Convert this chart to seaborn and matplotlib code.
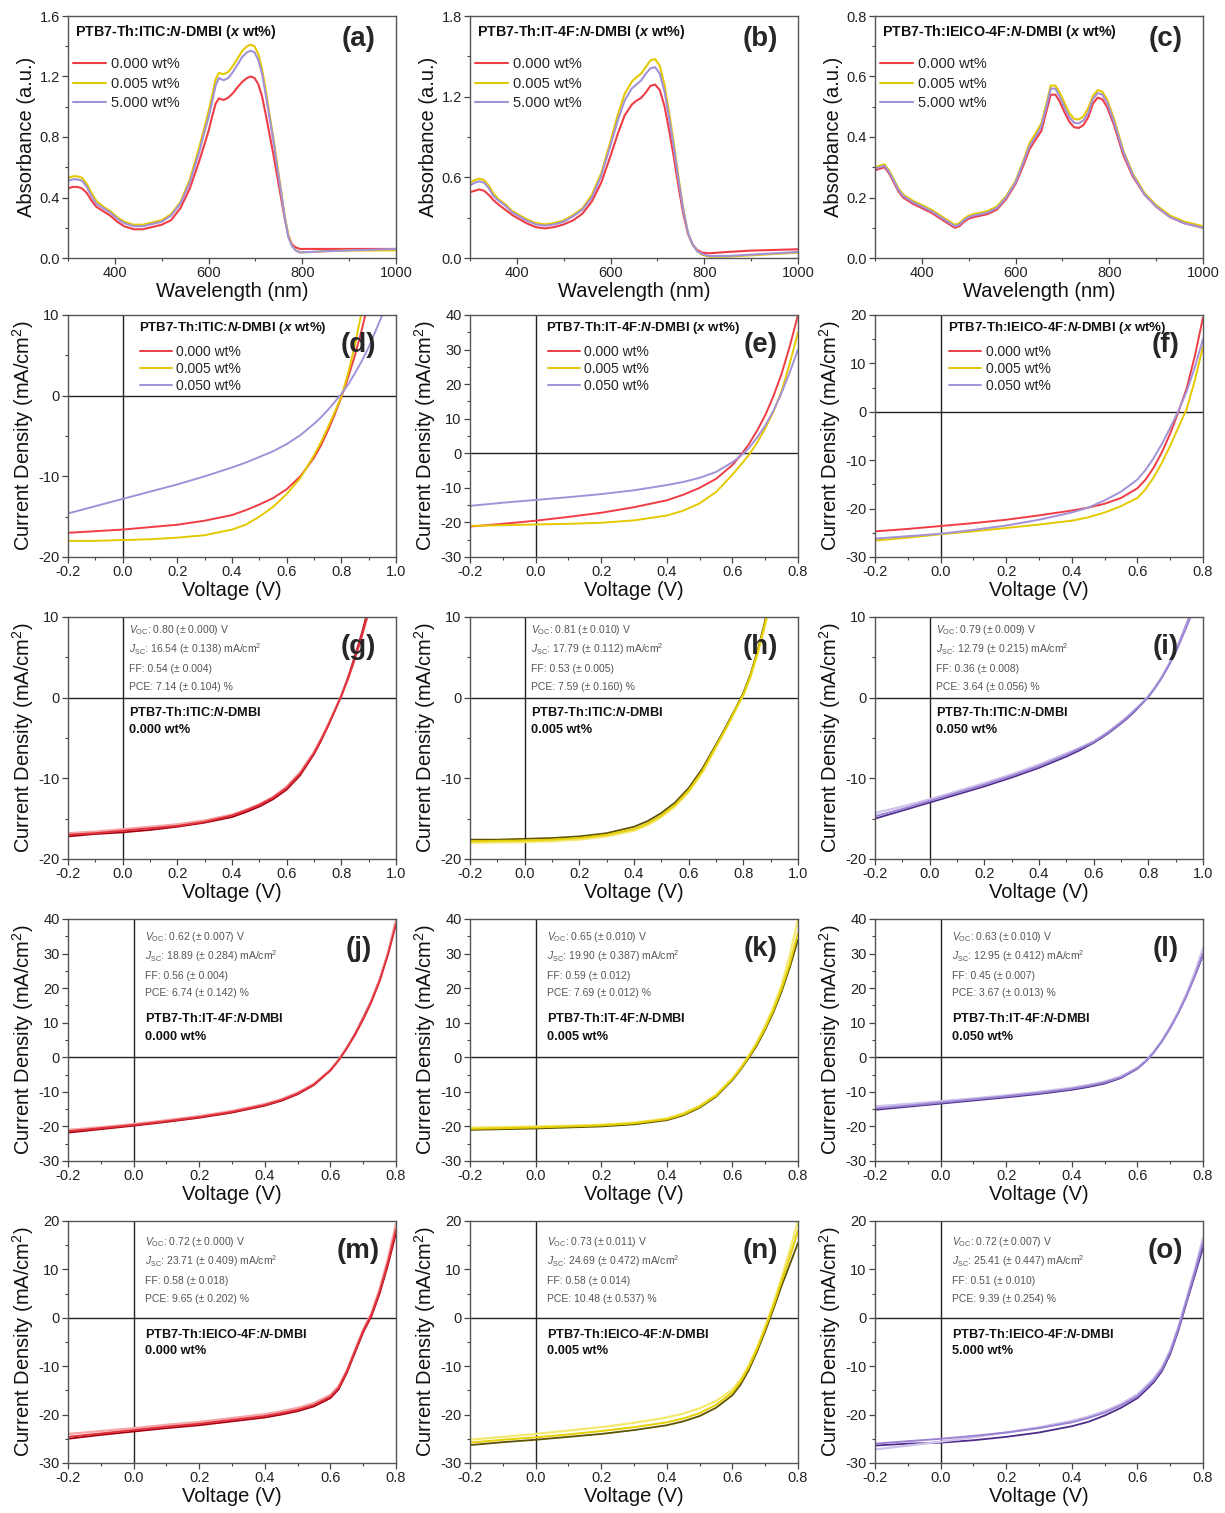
import numpy as np
import pandas as pd
import matplotlib
matplotlib.use("Agg")
import matplotlib.pyplot as plt
import seaborn as sns
from matplotlib.ticker import MultipleLocator, FuncFormatter

sns.set_theme(style="ticks")
plt.rcParams["font.family"] = ["Liberation Sans", "DejaVu Sans"]
plt.rcParams["axes.unicode_minus"] = False
plt.rcParams["mathtext.fontset"] = "custom"
plt.rcParams["mathtext.rm"] = "Liberation Sans"
plt.rcParams["mathtext.it"] = "Liberation Sans:italic"
plt.rcParams["mathtext.bf"] = "Liberation Sans:bold"
try:
    plt.rcParams["mathtext.bfit"] = "Liberation Sans:bold:italic"
except Exception:
    pass

# ---------------- absorbance data ----------------
WL_A = [300,310,320,330,340,350,360,375,390,405,420,440,460,480,500,520,540,560,
        580,590,600,608,615,622,632,642,652,662,672,682,690,698,706,714,722,730,738,746,754,762,770,778,786,795,
        820,850,900,950,1000]
ABS_A_000 = [.46,.47,.47,.46,.43,.38,.34,.31,.28,.24,.21,.19,.19,.205,.22,.25,.33,.46,
             .64,.74,.84,.94,1.02,1.055,1.045,1.06,1.09,1.13,1.165,1.19,1.20,1.19,1.15,1.07,.95,.82,.69,.55,.41,.27,.15,.09,.07,.06,
             .06,.06,.06,.06,.06]
ABS_A_005 = [.53,.54,.54,.53,.49,.43,.38,.34,.31,.27,.24,.22,.22,.235,.25,.29,.37,.52,
             .73,.85,.97,1.08,1.18,1.225,1.215,1.23,1.27,1.32,1.37,1.40,1.41,1.40,1.35,1.25,1.11,.95,.80,.63,.46,.29,.15,.08,.05,.037,
             .04,.045,.05,.05,.05]
ABS_A_5000 = [.51,.52,.52,.51,.47,.41,.36,.33,.30,.26,.23,.21,.21,.225,.24,.28,.36,.50,
              .70,.82,.93,1.04,1.14,1.19,1.175,1.19,1.23,1.28,1.33,1.36,1.37,1.36,1.31,1.22,1.08,.93,.78,.61,.45,.28,.14,.08,.05,.037,
              .04,.045,.05,.055,.06]

WL_B = [300,310,320,330,340,350,360,375,390,405,420,440,460,480,500,520,540,560,580,600,
        615,630,645,655,665,675,685,695,705,715,725,735,745,755,765,775,785,795,810,850,900,950,1000]
ABS_B_000 = [.49,.50,.51,.50,.47,.43,.40,.36,.32,.29,.26,.23,.22,.23,.25,.28,.33,.42,.56,.76,
             .92,1.06,1.14,1.17,1.19,1.23,1.28,1.29,1.25,1.13,.95,.75,.53,.33,.18,.10,.06,.04,.035,.045,.055,.06,.065]
ABS_B_005 = [.56,.58,.59,.58,.54,.48,.44,.40,.35,.32,.29,.26,.25,.26,.28,.32,.37,.47,.63,.87,
             1.06,1.22,1.31,1.345,1.37,1.42,1.47,1.48,1.43,1.29,1.08,.85,.60,.37,.19,.10,.05,.025,.01,.01,.02,.03,.04]
ABS_B_5000 = [.54,.56,.57,.56,.52,.46,.43,.39,.34,.31,.28,.25,.24,.25,.27,.31,.36,.45,.61,.84,
              1.02,1.17,1.26,1.29,1.32,1.37,1.41,1.42,1.37,1.24,1.04,.82,.58,.36,.19,.10,.05,.03,.015,.015,.025,.035,.045]

WL_C = [300,310,320,330,340,350,360,380,400,420,440,455,470,480,490,500,510,525,540,560,
        580,600,615,630,642,655,665,675,685,695,705,715,725,735,745,755,765,775,785,795,
        810,830,850,875,900,930,960,1000]
ABS_C_000 = [.29,.295,.30,.28,.25,.22,.20,.18,.165,.15,.13,.115,.10,.105,.12,.13,.135,.14,.145,.16,
             .195,.245,.30,.36,.39,.42,.48,.54,.54,.515,.48,.45,.432,.43,.44,.465,.51,.53,.525,.50,
             .44,.34,.27,.21,.17,.135,.115,.10]
ABS_C_005 = [.30,.305,.31,.29,.26,.23,.21,.19,.175,.16,.14,.125,.11,.115,.13,.14,.145,.15,.155,.17,
             .205,.255,.315,.38,.41,.445,.505,.57,.57,.545,.51,.478,.46,.458,.468,.495,.535,.555,.55,.525,
             .46,.355,.28,.215,.175,.14,.12,.105]
ABS_C_5000 = [.295,.30,.305,.285,.255,.225,.205,.185,.17,.155,.135,.12,.105,.11,.125,.135,.14,.145,.15,.165,
              .20,.25,.31,.37,.40,.435,.495,.56,.56,.53,.495,.465,.447,.445,.455,.48,.525,.545,.54,.515,
              .45,.35,.275,.21,.17,.135,.115,.10]

# ---------------- J-V data ----------------
V_ITIC = [-0.2,-0.1,0.0,0.1,0.2,0.3,0.4,0.45,0.5,0.55,0.6,0.65,0.7,0.725,0.75,0.775,0.8,0.825,0.85,0.875,0.9,0.95,1.0]
V_OTHER = [-0.2,-0.1,0.0,0.1,0.2,0.3,0.4,0.45,0.5,0.55,0.6,0.625,0.65,0.675,0.7,0.725,0.75,0.775,0.8]

# (d)
JD_000 = [-17.0,-16.8,-16.6,-16.3,-16.0,-15.5,-14.8,-14.2,-13.5,-12.7,-11.6,-10.0,-7.7,-6.2,-4.4,-2.4,-0.2,2.3,5.0,8.2,11.8,19.5,27.5]
JD_005 = [-18.0,-18.0,-17.9,-17.8,-17.6,-17.3,-16.6,-16.0,-15.0,-13.8,-12.2,-10.2,-7.4,-5.8,-4.0,-2.1,-0.1,2.8,6.3,10.5,15.0,23.0,31.0]
JD_050 = [-14.6,-13.7,-12.8,-11.9,-11.0,-10.0,-8.9,-8.3,-7.6,-6.9,-6.0,-4.9,-3.5,-2.7,-1.8,-0.8,0.2,1.4,2.8,4.3,6.0,10.0,14.5]
# (e)
JE_000 = [-21.2,-20.4,-19.5,-18.4,-17.2,-15.6,-13.6,-12.0,-10.0,-7.4,-3.4,-0.6,2.6,6.5,11.0,16.5,23.0,31.0,40.0]
JE_005 = [-21.0,-20.8,-20.6,-20.4,-20.1,-19.4,-18.0,-16.6,-14.5,-11.2,-6.2,-3.4,-0.5,3.0,7.2,12.0,18.0,26.0,35.0]
JE_050 = [-15.2,-14.3,-13.5,-12.7,-11.8,-10.7,-9.2,-8.3,-7.1,-5.4,-2.6,-0.8,1.5,4.5,8.0,12.3,17.5,23.5,30.0]
# (f)
JF_000 = [-24.7,-24.2,-23.6,-23.0,-22.3,-21.4,-20.4,-19.8,-19.0,-17.8,-15.8,-14.0,-11.5,-8.3,-4.5,0.0,4.8,11.5,19.5]
JF_005 = [-26.6,-26.0,-25.3,-24.7,-24.0,-23.3,-22.5,-21.8,-20.8,-19.5,-17.8,-16.0,-13.5,-10.5,-7.0,-3.2,0.5,6.5,13.5]
JF_050 = [-26.2,-25.7,-25.2,-24.4,-23.5,-22.3,-20.8,-19.8,-18.3,-16.5,-14.0,-12.0,-9.5,-6.6,-3.3,0.2,4.2,9.2,15.0]

# (g) ITIC 0.000 wt% - individual devices
JG_1 = [-17.2,-16.9,-16.7,-16.4,-16.0,-15.5,-14.8,-14.2,-13.5,-12.6,-11.4,-9.6,-7.0,-5.4,-3.6,-1.7,0.3,2.6,5.2,8.0,11.2,18.0,26.0]
JG_2 = [-17.0,-16.8,-16.5,-16.2,-15.9,-15.4,-14.6,-14.0,-13.3,-12.4,-11.2,-9.4,-6.9,-5.3,-3.6,-1.7,0.2,2.4,4.9,7.7,10.8,17.5,25.0]
JG_3 = [-16.8,-16.6,-16.3,-16.0,-15.7,-15.2,-14.5,-13.9,-13.2,-12.3,-11.0,-9.2,-6.7,-5.1,-3.4,-1.6,0.3,2.4,4.8,7.5,10.5,17.0,24.5]
# (h)
JH_1 = [-17.6,-17.6,-17.5,-17.4,-17.2,-16.8,-16.0,-15.3,-14.3,-13.0,-11.2,-8.8,-5.8,-4.3,-2.7,-1.1,0.6,2.8,5.6,8.9,12.6,21.0,30.0]
JH_2 = [-17.8,-17.75,-17.7,-17.6,-17.4,-17.0,-16.3,-15.6,-14.6,-13.3,-11.5,-9.1,-6.0,-4.5,-2.9,-1.2,0.4,2.6,5.4,8.6,12.2,20.5,29.5]
JH_3 = [-18.0,-17.95,-17.9,-17.8,-17.6,-17.2,-16.5,-15.8,-14.8,-13.5,-11.7,-9.3,-6.2,-4.6,-3.0,-1.3,0.3,2.4,5.1,8.3,11.9,20.0,29.0]
# (i)
JI_1 = [-15.0,-14.0,-13.0,-12.0,-11.0,-9.9,-8.7,-8.0,-7.3,-6.5,-5.6,-4.5,-3.2,-2.5,-1.7,-0.8,0.1,1.3,2.6,4.1,5.8,10.0,15.0]
JI_2 = [-14.7,-13.8,-12.8,-11.8,-10.8,-9.7,-8.5,-7.8,-7.1,-6.3,-5.5,-4.4,-3.1,-2.4,-1.6,-0.8,0.1,1.2,2.5,4.0,5.6,9.6,14.5]
JI_3 = [-14.3,-13.5,-12.6,-11.6,-10.6,-9.5,-8.3,-7.6,-6.9,-6.2,-5.4,-4.3,-3.0,-2.3,-1.5,-0.7,0.2,1.3,2.6,4.1,5.8,9.8,14.6]
# (j)
JJ_1 = [-21.8,-20.8,-19.8,-18.7,-17.5,-16.0,-14.0,-12.6,-10.7,-8.0,-3.8,-0.8,2.8,6.8,11.5,16.5,22.5,30.0,39.0]
JJ_2 = [-21.4,-20.5,-19.6,-18.5,-17.3,-15.8,-13.8,-12.4,-10.5,-7.9,-3.8,-0.9,2.6,6.5,11.0,16.0,22.0,29.5,38.5]
JJ_3 = [-21.0,-20.2,-19.3,-18.2,-17.0,-15.5,-13.5,-12.1,-10.2,-7.6,-3.6,-0.7,2.7,6.6,11.2,16.3,22.3,30.0,40.0]
# (k)
JK_1 = [-21.0,-20.8,-20.6,-20.3,-20.0,-19.4,-18.2,-16.8,-14.6,-11.4,-6.6,-3.6,-0.2,3.5,8.0,13.0,19.0,26.0,34.0]
JK_2 = [-20.7,-20.5,-20.3,-20.0,-19.7,-19.1,-17.9,-16.5,-14.3,-11.1,-6.3,-3.3,0.2,4.0,8.5,13.6,19.8,27.0,36.0]
JK_3 = [-20.3,-20.2,-20.0,-19.8,-19.5,-18.9,-17.7,-16.2,-14.0,-10.8,-6.0,-3.0,0.5,4.5,9.2,14.6,21.0,29.5,40.0]
# (l)
JL_1 = [-15.2,-14.3,-13.4,-12.5,-11.6,-10.6,-9.4,-8.6,-7.6,-6.0,-3.3,-1.2,1.5,4.8,8.7,13.0,18.0,23.5,29.5]
JL_2 = [-14.8,-14.0,-13.1,-12.2,-11.3,-10.3,-9.1,-8.3,-7.3,-5.8,-3.2,-1.2,1.4,4.6,8.4,12.8,17.8,23.5,30.0]
JL_3 = [-14.2,-13.5,-12.7,-11.9,-11.0,-10.0,-8.8,-8.0,-7.0,-5.5,-3.0,-1.0,1.6,4.9,8.8,13.3,18.5,24.5,31.5]
# (m)
JM_1 = [-25.0,-24.2,-23.5,-22.8,-22.2,-21.4,-20.6,-20.0,-19.3,-18.3,-16.6,-14.8,-11.4,-7.2,-3.0,0.3,5.0,10.8,17.5]
JM_2 = [-24.6,-23.9,-23.2,-22.5,-21.9,-21.1,-20.3,-19.7,-19.0,-18.0,-16.3,-14.5,-11.1,-6.9,-2.7,0.6,5.4,11.3,18.2]
JM_3 = [-24.0,-23.4,-22.8,-22.1,-21.5,-20.7,-19.9,-19.3,-18.6,-17.6,-15.9,-14.1,-10.8,-6.6,-2.4,1.0,6.0,12.2,19.5]
# (n)
JN_1 = [-26.3,-25.7,-25.2,-24.6,-24.0,-23.2,-22.2,-21.4,-20.3,-18.6,-16.0,-13.8,-10.8,-7.0,-2.8,1.8,6.6,11.0,15.5]
JN_2 = [-25.8,-25.2,-24.7,-24.1,-23.4,-22.6,-21.6,-20.8,-19.7,-18.0,-15.4,-13.2,-10.2,-6.5,-2.2,2.4,7.5,12.5,18.0]
JN_3 = [-25.2,-24.6,-24.0,-23.3,-22.6,-21.7,-20.6,-19.8,-18.7,-17.2,-14.8,-12.7,-9.8,-6.1,-1.8,3.0,8.3,14.0,20.0]
# (o)
JO_1 = [-26.4,-26.0,-25.8,-25.3,-24.6,-23.7,-22.4,-21.5,-20.2,-18.6,-16.6,-15.0,-13.3,-11.0,-7.5,-2.6,3.2,8.8,14.5]
JO_2 = [-26.0,-25.5,-25.0,-24.4,-23.7,-22.8,-21.6,-20.7,-19.6,-18.1,-16.2,-14.6,-12.9,-10.6,-7.1,-2.2,3.6,9.4,15.5]
JO_3 = [-27.2,-26.4,-25.6,-24.7,-23.7,-22.6,-21.3,-20.4,-19.3,-17.8,-15.8,-14.2,-12.5,-10.2,-6.7,-1.8,4.0,10.0,16.5]

# ---------------- text ----------------
ACCEPTORS = ["ITIC", "IT-4F", "IEICO-4F"]
ABS_LABELS = ["0.000 wt%", "0.005 wt%", "5.000 wt%"]
JV_LABELS = ["0.000 wt%", "0.005 wt%", "0.050 wt%"]
PANEL_LETTERS = list("abcdefghijklmno")
VOC = ["0.80 (± 0.000)", "0.81 (± 0.010)", "0.79 (± 0.009)",
       "0.62 (± 0.007)", "0.65 (± 0.010)", "0.63 (± 0.010)",
       "0.72 (± 0.000)", "0.73 (± 0.011)", "0.72 (± 0.007)"]
JSC = ["16.54 (± 0.138)", "17.79 (± 0.112)", "12.79 (± 0.215)",
       "18.89 (± 0.284)", "19.90 (± 0.387)", "12.95 (± 0.412)",
       "23.71 (± 0.409)", "24.69 (± 0.472)", "25.41 (± 0.447)"]
FF = ["0.54 (± 0.004)", "0.53 (± 0.005)", "0.36 (± 0.008)",
      "0.56 (± 0.004)", "0.59 (± 0.012)", "0.45 (± 0.007)",
      "0.58 (± 0.018)", "0.58 (± 0.014)", "0.51 (± 0.010)"]
PCE = ["7.14 (± 0.104)", "7.59 (± 0.160)", "3.64 (± 0.056)",
       "6.74 (± 0.142)", "7.69 (± 0.012)", "3.67 (± 0.013)",
       "9.65 (± 0.202)", "10.48 (± 0.537)", "9.39 (± 0.254)"]
SAMPLE_ACC = ["ITIC", "ITIC", "ITIC", "IT-4F", "IT-4F", "IT-4F", "IEICO-4F", "IEICO-4F", "IEICO-4F"]
SAMPLE_WT = ["0.000 wt%", "0.005 wt%", "0.050 wt%", "0.000 wt%", "0.005 wt%", "0.050 wt%",
             "0.000 wt%", "0.005 wt%", "5.000 wt%"]

# ---------------- styles ----------------
RED, YEL, PUR = "#EE3D45", "#E4C900", "#A391D8"
SHADES = {  # dark, light, mid (drawn in this order, mid on top)
    "red": ["#A00010", "#F5A6A8", "#E0303A"],
    "yel": ["#5C5200", "#F4E970", "#E6CF00"],
    "pur": ["#4D2B88", "#CEC1EC", "#9A82D2"],
}

W, H = 1225, 1513
fig = plt.figure(figsize=(W / 100, H / 100), dpi=100)
COL_LEFT = [68, 470, 875]
ROW_TOP = [16, 315, 617, 919, 1221]
AW, AH = 328, 242


def make_ax(r, c):
    l = COL_LEFT[c] / W
    b = 1 - (ROW_TOP[r] + AH) / H
    return fig.add_axes([l, b, AW / W, AH / H])


def fmt1(v, p):
    return f"{round(v, 1) + 0.0:.1f}"


def fmt0(v, p):
    return f"{int(round(v))}"


def style(ax, xlim, xmaj, ylim, ymaj, xf, yf, xlabel, ylabel):
    ax.set_xlim(*xlim)
    ax.set_ylim(*ylim)
    ax.xaxis.set_major_locator(MultipleLocator(xmaj))
    ax.xaxis.set_minor_locator(MultipleLocator(xmaj / 2))
    ax.yaxis.set_major_locator(MultipleLocator(ymaj))
    ax.yaxis.set_minor_locator(MultipleLocator(ymaj / 2))
    ax.xaxis.set_major_formatter(FuncFormatter(xf))
    ax.yaxis.set_major_formatter(FuncFormatter(yf))
    ax.tick_params(which="both", direction="out", color="#444444", top=False, right=False,
                   labelsize=10.5, labelcolor="#222222", pad=2)
    ax.tick_params(which="major", length=4, width=0.9)
    ax.tick_params(which="minor", length=2.5, width=0.8)
    for sp in ax.spines.values():
        sp.set_color("#555555")
        sp.set_linewidth(1.0)
    ax.set_xlabel(xlabel, fontsize=14.5, labelpad=1, color="#111111")
    ax.set_ylabel(ylabel, fontsize=14.5, labelpad=2, color="#111111")


def title_text(acc):
    return "PTB7-Th:" + acc + r":$\mathbfit{N}$-DMBI ($\mathbfit{x}$ wt%)"


JV_YLABEL = r"Current Density (mA/cm$^{2}$)"

# ---------- row 1: absorbance ----------
abs_sets = [
    (WL_A, [ABS_A_000, ABS_A_005, ABS_A_5000], (0, 1.6), 0.4),
    (WL_B, [ABS_B_000, ABS_B_005, ABS_B_5000], (0, 1.8), 0.6),
    (WL_C, [ABS_C_000, ABS_C_005, ABS_C_5000], (0, 0.8), 0.2),
]
for c, (wl, ys, ylim, ymaj) in enumerate(abs_sets):
    ax = make_ax(0, c)
    handles = []
    for y, col, lab in zip(ys, [RED, YEL, PUR], ABS_LABELS):
        df = pd.DataFrame({"wl": wl, "A": y})
        sns.lineplot(data=df, x="wl", y="A", ax=ax, color=col, lw=1.5, sort=False,
                     estimator=None, label=lab)
        handles.append(ax.lines[-1])
    style(ax, (300, 1000), 200, ylim, ymaj, fmt0, fmt1, "Wavelength (nm)", "Absorbance (a.u.)")
    ax.text(0.022, 0.935, title_text(ACCEPTORS[c]), transform=ax.transAxes, fontsize=10.3,
            fontweight="bold", ha="left", va="center", color="#111111")
    ax.legend(handles=handles, labels=ABS_LABELS, loc="upper left", bbox_to_anchor=(0.015, 0.83),
              frameon=False, fontsize=10.5, handlelength=2.3, handletextpad=0.3,
              labelspacing=0.38, borderpad=0, borderaxespad=0)
    ax.text(0.885, 0.905, f"({PANEL_LETTERS[c]})", transform=ax.transAxes, fontsize=20,
            fontweight="bold", ha="center", va="center")

# ---------- row 2: J-V comparison ----------
jv_sets = [
    (V_ITIC, [JD_000, JD_005, JD_050], (-0.2, 1.0), (-20, 10), 0.215),
    (V_OTHER, [JE_000, JE_005, JE_050], (-0.2, 0.8), (-30, 40), 0.232),
    (V_OTHER, [JF_000, JF_005, JF_050], (-0.2, 0.8), (-30, 20), 0.222),
]
for c, (vv, ys, xlim, ylim, tx) in enumerate(jv_sets):
    ax = make_ax(1, c)
    ax.axhline(0, color="#222222", lw=1.0, zorder=1)
    ax.axvline(0, color="#222222", lw=1.0, zorder=1)
    handles = []
    for y, col, lab in zip(ys, [RED, YEL, PUR], JV_LABELS):
        df = pd.DataFrame({"V": vv, "J": y})
        sns.lineplot(data=df, x="V", y="J", ax=ax, color=col, lw=1.4, sort=False,
                     estimator=None, label=lab)
        handles.append(ax.lines[-1])
    style(ax, xlim, 0.2, ylim, 10, fmt1, fmt0, "Voltage (V)", JV_YLABEL)
    ax.text(tx, 0.945, title_text(ACCEPTORS[c]), transform=ax.transAxes, fontsize=9.5,
            fontweight="bold", ha="left", va="center", color="#111111")
    ax.legend(handles=handles, labels=JV_LABELS, loc="upper left", bbox_to_anchor=(tx + 0.005, 0.875),
              frameon=False, fontsize=10, handlelength=2.3, handletextpad=0.3,
              labelspacing=0.22, borderpad=0, borderaxespad=0)
    ax.text(0.885, 0.875, f"({PANEL_LETTERS[3 + c]})", transform=ax.transAxes, fontsize=20,
            fontweight="bold", ha="center", va="center")

# ---------- rows 3-5: individual devices ----------
dev_sets = [
    [JG_1, JG_2, JG_3], [JH_1, JH_2, JH_3], [JI_1, JI_2, JI_3],
    [JJ_1, JJ_2, JJ_3], [JK_1, JK_2, JK_3], [JL_1, JL_2, JL_3],
    [JM_1, JM_2, JM_3], [JN_1, JN_2, JN_3], [JO_1, JO_2, JO_3],
]
shade_keys = ["red", "yel", "pur"]
row_cfg = {
    2: dict(v=V_ITIC, xlim=(-0.2, 1.0), ylim=(-20, 10), tx=0.185,
            ann=[0.946, 0.868, 0.785, 0.711], bold=[0.607, 0.533]),
    3: dict(v=V_OTHER, xlim=(-0.2, 0.8), ylim=(-30, 40), tx=0.235,
            ann=[0.926, 0.847, 0.764, 0.694], bold=[0.587, 0.512]),
    4: dict(v=V_OTHER, xlim=(-0.2, 0.8), ylim=(-30, 20), tx=0.235,
            ann=[0.913, 0.835, 0.752, 0.678], bold=[0.533, 0.463]),
}
for idx, ys in enumerate(dev_sets):
    r, c = 2 + idx // 3, idx % 3
    cfg = row_cfg[r]
    ax = make_ax(r, c)
    ax.axhline(0, color="#222222", lw=1.0, zorder=1)
    ax.axvline(0, color="#222222", lw=1.0, zorder=1)
    shades = SHADES[shade_keys[c]]
    for y, col, lw in zip([ys[0], ys[2], ys[1]], shades, [1.3, 1.6, 1.4]):
        df = pd.DataFrame({"V": cfg["v"], "J": y})
        sns.lineplot(data=df, x="V", y="J", ax=ax, color=col, lw=lw, sort=False,
                     estimator=None, legend=False)
    style(ax, cfg["xlim"], 0.2, cfg["ylim"], 10, fmt1, fmt0, "Voltage (V)", JV_YLABEL)
    ann = [r"$V_{\rm OC}$: " + VOC[idx] + " V",
           r"$J_{\rm SC}$: " + JSC[idx] + r" mA/cm$^{2}$",
           "FF: " + FF[idx],
           "PCE: " + PCE[idx] + " %"]
    for t, yy in zip(ann, cfg["ann"]):
        ax.text(cfg["tx"], yy, t, transform=ax.transAxes, fontsize=7.5, color="#555555",
                ha="left", va="center")
    ax.text(cfg["tx"], cfg["bold"][0], "PTB7-Th:" + SAMPLE_ACC[idx] + r":$\mathbfit{N}$-DMBI",
            transform=ax.transAxes, fontsize=9.2, fontweight="bold", ha="left", va="center",
            color="#111111")
    ax.text(cfg["tx"], cfg["bold"][1], SAMPLE_WT[idx], transform=ax.transAxes, fontsize=9.2,
            fontweight="bold", ha="left", va="center", color="#111111")
    ax.text(0.885, 0.875, f"({PANEL_LETTERS[6 + idx]})", transform=ax.transAxes, fontsize=20,
            fontweight="bold", ha="center", va="center")

fig.savefig("out.png", dpi=100, facecolor="white")
